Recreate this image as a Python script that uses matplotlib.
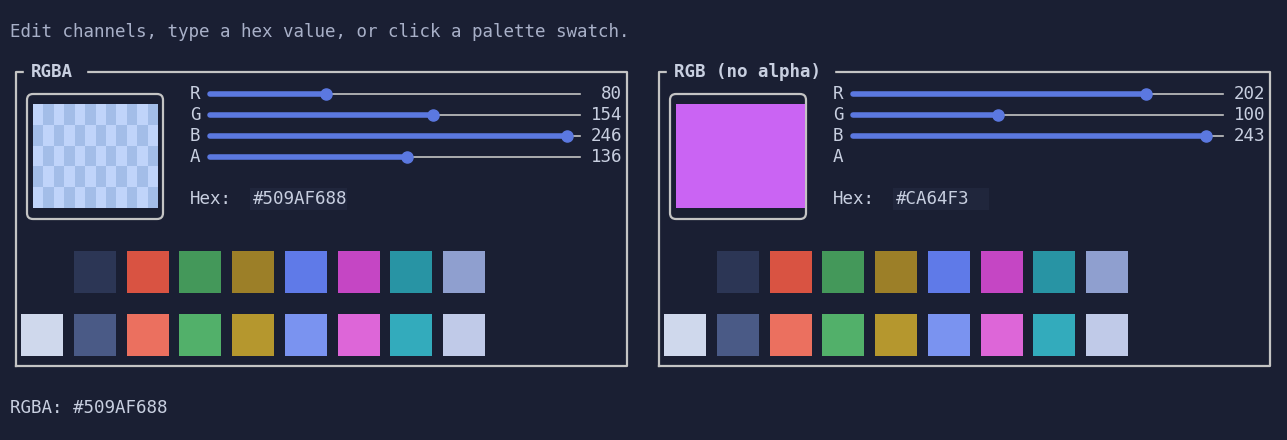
import matplotlib
matplotlib.use("Agg")
import matplotlib.pyplot as plt
from matplotlib.patches import Rectangle, FancyBboxPatch

BG = "#1a1f33"
FRAME = "#c4c4c4"
TXT = "#c8cfe0"
BLUE = "#5b78e0"

panels = ["RGBA", "RGB (no alpha)"]
channels = ["R", "G", "B", "A"]
values_left = [80, 154, 246, 136]
values_right = [202, 100, 243, None]
hex_left = "#509AF688"
hex_right = "#CA64F3"
palette_top = [None, "#2c3655", "#d95342", "#44985a", "#9c7f28", "#5f7ae8", "#c546c4", "#2894a4", "#8f9fcf"]
palette_bottom = ["#cfd8ec", "#4a5a86", "#eb705f", "#52b06a", "#b5972e", "#7a93f0", "#dd66d8", "#33abbc", "#c0cae8"]
swatch_x = [21, 74, 127, 179, 232, 285, 338, 390, 443]

fig = plt.figure(figsize=(12.87, 4.40), dpi=100, facecolor=BG)
ax = fig.add_axes([0, 0, 1, 1])
ax.set_xlim(0, 1287)
ax.set_ylim(440, 0)
ax.axis("off")
ax.set_facecolor(BG)
FS = 12.6
mono = "DejaVu Sans Mono"

ax.text(10, 32, "Edit channels, type a hex value, or click a palette swatch.", color="#a8b0c8",
        fontsize=FS, family=mono, va="center")
ax.text(10, 408, "RGBA: " + hex_left, color=TXT, fontsize=FS, family=mono, va="center")

for p, (title, vals, hx) in enumerate(zip(panels, [values_left, values_right], [hex_left, hex_right])):
    ox = p * 643
    # frame
    ax.plot([ox + 16, ox + 16, ox + 627, ox + 627, ox + 16], [366, 72, 72, 366, 366], color=FRAME, lw=1.6)
    tw = 10.5 * len(title) + 20
    ax.add_patch(Rectangle((ox + 24, 64), tw, 16, color=BG, zorder=2))
    ax.text(ox + 31, 72, title, color=TXT, fontsize=FS, family=mono, weight="bold", va="center", zorder=3)
    # preview
    ax.add_patch(FancyBboxPatch((ox + 27, 94), 136, 125, boxstyle="round,pad=0,rounding_size=6",
                                fill=False, ec=FRAME, lw=1.6))
    if p == 0:
        cw, ch = 125 / 12, 104 / 5
        for i in range(12):
            for j in range(5):
                c = "#c0d4fa" if (i + j) % 2 == 0 else "#a3bde8"
                ax.add_patch(Rectangle((ox + 33 + i * cw, 104 + j * ch), cw, ch, color=c, lw=0))
    else:
        ax.add_patch(Rectangle((ox + 33, 104), 129, 104, color=hx, lw=0))
    # sliders
    for k, (ch_, v) in enumerate(zip(channels, vals)):
        y = 94 + k * 21
        ax.text(ox + 190, y, ch_, color=TXT, fontsize=FS, family=mono, va="center")
        if v is None:
            continue
        x0, x1 = ox + 210, ox + 580
        xv = x0 + (x1 - x0) * v / 255
        ax.plot([x0, x1], [y, y], color=FRAME, lw=1.2)
        ax.plot([x0, xv], [y, y], color=BLUE, lw=4, solid_capstyle="round")
        ax.plot([xv], [y], "o", color=BLUE, ms=8)
        ax.text(ox + 622, y, str(v), color=TXT, fontsize=FS, family=mono, va="center", ha="right")
    ax.text(ox + 190, 199, "Hex:", color=TXT, fontsize=FS, family=mono, va="center")
    ax.add_patch(Rectangle((ox + 250, 188), 97 if p == 0 else 96, 22, color="#20263c", lw=0))
    ax.text(ox + 253, 199, hx, color=TXT, fontsize=FS, family=mono, va="center")
    # palette
    for x, c in zip(swatch_x, palette_top):
        if c:
            ax.add_patch(Rectangle((ox + x, 251), 42, 42, color=c, lw=0))
    for x, c in zip(swatch_x, palette_bottom):
        ax.add_patch(Rectangle((ox + x, 314), 42, 42, color=c, lw=0))

fig.savefig("out.png", dpi=100, facecolor=BG)
